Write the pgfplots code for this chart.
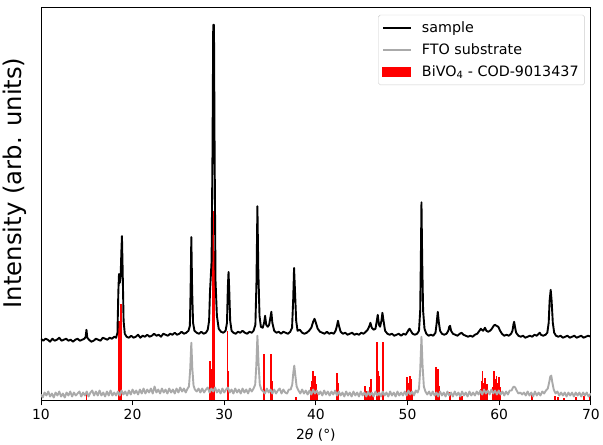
\documentclass[border=0pt]{standalone}
\usepackage{pgfplots}
\pgfplotsset{compat=1.18}
\usepackage{fontspec}
\setmainfont{DejaVu Sans}
\definecolor{ftogray}{RGB}{170,170,170}
\begin{document}
\begin{tikzpicture}
\begin{axis}[
  name=ax,
  scale only axis,
  width=552bp, height=395bp,
  xmin=10, xmax=70, ymin=0, ymax=395,
  xtick={10,20,...,70},
  ytick=\empty,
  tick align=outside,
  major tick length=5bp,
  xtick pos=bottom,
  axis line style={line width=0.8bp},
  every tick/.style={black, line width=0.8bp},
  /pgf/number format/assume math mode=true,
  ticklabel style={font=\fontsize{14}{16}\selectfont},
  xlabel={2{\itshape θ} (°)},
  ylabel={Intensity (arb. units)},
  xlabel style={font=\fontsize{14}{16}\selectfont, at={(axis description cs:0.5,-0.088)}, anchor=center},
  ylabel style={font=\fontsize{24.5}{28}\selectfont, at={(axis description cs:-0.047,0.553)}, anchor=center, rotate=0},
  legend style={at={(axis description cs:0.989,0.98)}, anchor=north east,
    draw=black!20, rounded corners=2pt, fill=white, fill opacity=0.8, text opacity=1,
    font=\fontsize{14.4}{16}\selectfont, row sep=5.5bp, inner xsep=4bp, inner ysep=5bp},
  legend cell align=left,
  reverse legend,
]
\addplot[ycomb, red, line width=1.9bp,
  legend image code/.code={\fill[red, sharp corners, fill opacity=1] (0bp,-4bp) rectangle (27bp,4bp); \path (36bp,0bp);}] coordinates {
(14.97,8) (18.48,80) (18.77,97) (28.48,40) (28.58,32) (28.73,190) (28.85,150) (28.91,130)
(30.36,70) (30.47,30) (34.35,47) (35.14,47) (35.22,20) (37.86,4)
(39.42,14) (39.55,20) (39.67,30) (39.78,22) (39.89,25) (40.03,17) (40.15,8)
(42.35,28) (42.45,18) (45.4,15) (45.55,10) (45.72,8) (45.87,14) (46.05,22) (46.2,6)
(46.67,59) (46.78,30) (46.85,25) (47.28,59) (47.38,42)
(49.93,24) (50.05,18) (50.22,25) (50.4,22) (50.5,10)
(53.15,34) (53.25,25) (53.37,32) (53.48,15) (54.64,9) (55.72,7) (55.98,5)
(58.0,12) (58.1,20) (58.18,30) (58.3,18) (58.44,23) (58.55,15) (58.7,17)
(59.27,14) (59.38,20) (59.46,30) (59.58,22) (59.71,25) (59.85,18) (60.0,24) (60.14,14)
(63.62,7) (66.05,5) (66.4,4) (67.1,3) (68.4,4) (69.3,5) (69.85,7)
};
\addlegendentry{BiVO\textsubscript{4} - COD-9013437\hspace{9bp}}
\addplot[ftogray, line width=1.9bp, line join=round,
  legend image code/.code={\draw[ftogray, line width=1.6bp, opacity=1] (0bp,0bp) -- (28bp,0bp); \path (36bp,0bp);}] coordinates {
(10.0,6) (10.2,3) (10.4,8) (10.6,5) (10.8,9) (11.0,4) (11.2,7) (11.4,3) (11.6,8) (11.8,5)
(12.0,9) (12.2,4) (12.4,7) (12.6,3) (12.8,8) (13.0,5) (13.2,9) (13.4,4) (13.6,8) (13.8,5)
(14.0,7) (14.2,9) (14.4,4) (14.6,8) (14.8,5) (15.0,9) (15.2,4) (15.4,8) (15.6,10) (15.8,5)
(16.0,9) (16.2,5) (16.4,10) (16.6,5) (16.8,8) (17.0,4) (17.2,9) (17.4,5) (17.6,10) (17.8,5)
(18.0,8) (18.2,5) (18.4,9) (18.6,5) (18.8,10) (19.0,6) (19.2,9) (19.4,5) (19.6,10) (19.8,6)
(20.0,11) (20.2,7) (20.4,10) (20.6,6) (20.8,11) (21.0,7) (21.2,12) (21.4,7) (21.6,11) (21.8,8)
(22.0,12) (22.2,7) (22.4,14) (22.6,8) (22.8,11) (23.0,7) (23.2,12) (23.4,8) (23.6,11) (23.8,7)
(24.0,12) (24.2,8) (24.4,11) (24.6,7) (24.8,12) (25.0,8) (25.2,13) (25.4,9) (25.6,12) (25.8,8)
(26.0,12) (26.15,14) (26.28,30) (26.41,58) (26.52,32) (26.65,15) (26.8,11) (27.0,9) (27.2,12)
(27.4,8) (27.6,12) (27.8,8) (28.0,11) (28.2,13) (28.4,8) (28.6,12) (28.8,9) (29.0,13) (29.2,8)
(29.4,11) (29.6,7) (29.8,12) (30.0,8) (30.2,11) (30.4,13) (30.6,8) (30.8,11) (31.0,7) (31.2,12)
(31.4,8) (31.6,11) (31.8,7) (32.0,12) (32.2,8) (32.4,11) (32.6,7) (32.8,12) (33.0,9) (33.2,12)
(33.38,16) (33.5,35) (33.62,65) (33.74,38) (33.88,16) (34.05,11) (34.25,9) (34.45,7) (34.65,12)
(34.85,8) (35.05,11) (35.25,7) (35.45,11) (35.65,7) (35.85,10) (36.05,12) (36.25,7) (36.45,11)
(36.65,8) (36.85,7) (37.05,11) (37.25,11) (37.42,16) (37.54,28) (37.64,35) (37.75,26) (37.9,14)
(38.1,10) (38.3,7) (38.5,11) (38.7,7) (38.9,10) (39.1,6) (39.3,10) (39.5,6) (39.7,11) (39.9,7)
(40.1,10) (40.3,6) (40.5,9) (40.7,5) (40.9,10) (41.1,6) (41.3,9) (41.5,5) (41.7,9) (41.9,6)
(42.1,10) (42.3,5) (42.5,9) (42.7,5) (42.9,8) (43.1,4) (43.3,9) (43.5,5) (43.7,8) (43.9,4)
(44.1,9) (44.3,5) (44.5,8) (44.7,4) (44.9,9) (45.1,5) (45.3,8) (45.5,4) (45.7,9) (45.9,5)
(46.1,8) (46.3,4) (46.5,9) (46.7,5) (46.9,8) (47.1,4) (47.3,9) (47.5,5) (47.7,8) (47.9,4)
(48.1,9) (48.3,5) (48.5,8) (48.7,4) (48.9,9) (49.1,5) (49.3,8) (49.5,5) (49.7,9) (49.9,5)
(50.1,10) (50.3,6) (50.5,9) (50.7,5) (50.9,10) (51.1,8) (51.25,12) (51.38,30) (51.52,64) (51.64,35)
(51.78,14) (51.95,9) (52.15,6) (52.35,9) (52.55,5) (52.75,9) (52.95,5) (53.15,8) (53.35,4)
(53.55,9) (53.75,5) (53.95,8) (54.15,4) (54.35,9) (54.55,5) (54.75,8) (54.95,4) (55.15,9)
(55.35,5) (55.55,8) (55.75,4) (55.95,9) (56.15,5) (56.35,8) (56.55,4) (56.75,9) (56.95,5)
(57.15,8) (57.35,5) (57.55,9) (57.75,6) (57.95,10) (58.15,6) (58.35,11) (58.55,7) (58.75,10)
(58.95,6) (59.15,11) (59.35,7) (59.55,10) (59.75,6) (59.95,10) (60.15,6) (60.35,9) (60.55,5)
(60.75,9) (60.95,6) (61.15,10) (61.35,10) (61.5,13) (61.62,14) (61.75,13) (61.9,10) (62.1,7)
(62.3,8) (62.5,6) (62.7,8) (62.9,5) (63.1,9) (63.3,5) (63.5,8) (63.7,4) (63.9,9) (64.1,5)
(64.3,8) (64.5,5) (64.7,9) (64.9,7) (65.1,10) (65.3,12) (65.45,18) (65.57,24) (65.68,25)
(65.8,18) (65.95,11) (66.15,7) (66.35,9) (66.55,5) (66.75,8) (66.95,5) (67.15,8) (67.35,4)
(67.55,8) (67.75,5) (67.95,8) (68.15,4) (68.35,8) (68.55,5) (68.75,8) (68.95,4) (69.15,8)
(69.35,5) (69.55,8) (69.75,4) (70.0,7)
};
\addlegendentry{FTO substrate}
\addplot[black, line width=1.9bp, line join=round,
  legend image code/.code={\draw[black, line width=1.6bp, opacity=1] (0bp,0bp) -- (28bp,0bp); \path (36bp,0bp);}] coordinates {
(10.0,62) (10.25,60) (10.5,62) (10.75,61) (11.0,59) (11.25,62) (11.5,60) (11.75,61) (12.0,63)
(12.25,60) (12.5,61) (12.75,62) (13.0,60) (13.25,61) (13.5,59) (13.75,61) (14.0,62) (14.25,60)
(14.5,61) (14.75,62) (14.88,64) (14.97,71) (15.06,63) (15.25,61) (15.5,59) (15.75,60) (16.0,62)
(16.25,61) (16.5,60) (16.75,63) (17.0,62) (17.25,61) (17.5,63) (17.75,62) (18.0,64) (18.2,63)
(18.35,68) (18.45,110) (18.52,127) (18.6,118) (18.7,125) (18.78,150) (18.84,165) (18.92,130)
(19.02,80) (19.15,67) (19.35,64) (19.6,63) (19.85,65) (20.1,63) (20.35,64) (20.6,66) (20.85,63)
(21.1,65) (21.35,64) (21.6,66) (21.85,64) (22.1,65) (22.35,67) (22.6,65) (22.85,66) (23.1,64)
(23.35,67) (23.6,66) (23.85,65) (24.1,67) (24.35,66) (24.6,68) (24.85,66) (25.1,67) (25.35,69)
(25.6,67) (25.85,68) (26.1,70) (26.25,75) (26.33,110) (26.41,164) (26.5,110) (26.6,78) (26.75,70)
(27.0,68) (27.25,67) (27.5,69) (27.75,67) (28.0,68) (28.2,71) (28.35,80) (28.45,110) (28.52,122)
(28.62,140) (28.72,250) (28.8,377) (28.88,377) (28.95,250) (29.05,120) (29.2,85) (29.4,72)
(29.65,69) (29.9,68) (30.15,70) (30.3,78) (30.4,115) (30.47,129) (30.55,110) (30.65,80) (30.8,70)
(31.0,68) (31.25,67) (31.5,69) (31.75,68) (32.0,70) (32.25,68) (32.5,67) (32.75,69) (33.0,68)
(33.2,70) (33.4,76) (33.52,120) (33.62,195) (33.72,130) (33.85,85) (34.0,74) (34.2,73) (34.35,78)
(34.46,85) (34.58,76) (34.75,74) (34.9,76) (35.05,84) (35.14,89) (35.25,78) (35.45,70) (35.7,68)
(35.95,69) (36.2,67) (36.45,69) (36.7,68) (36.95,67) (37.2,69) (37.4,73) (37.52,100) (37.62,133)
(37.72,110) (37.85,80) (38.0,70) (38.25,71) (38.5,68) (38.75,67) (39.0,68) (39.25,70) (39.5,73)
(39.7,79) (39.85,82) (40.0,78) (40.2,72) (40.45,69) (40.7,68) (40.95,67) (41.2,69) (41.45,67)
(41.7,68) (41.95,67) (42.15,70) (42.3,75) (42.41,80) (42.52,75) (42.7,69) (42.95,67) (43.2,68)
(43.45,66) (43.7,67) (43.95,68) (44.2,66) (44.45,67) (44.7,66) (44.95,68) (45.2,67) (45.45,69)
(45.65,71) (45.85,75) (45.95,78) (46.1,73) (46.3,71) (46.5,72) (46.65,80) (46.75,86) (46.88,76)
(47.0,74) (47.15,80) (47.26,88) (47.38,80) (47.55,70) (47.8,67) (48.05,66) (48.3,67) (48.55,65)
(48.8,66) (49.05,67) (49.3,65) (49.55,67) (49.8,66) (50.0,69) (50.12,71) (50.22,72) (50.35,70)
(50.55,67) (50.8,66) (51.05,67) (51.25,70) (51.38,90) (51.45,140) (51.52,199) (51.6,140) (51.7,90)
(51.85,72) (52.05,67) (52.3,65) (52.55,66) (52.8,65) (53.05,68) (53.18,78) (53.3,89) (53.42,78)
(53.55,70) (53.75,67) (54.0,66) (54.25,67) (54.45,70) (54.55,74) (54.64,75) (54.75,70) (54.95,67)
(55.2,66) (55.45,65) (55.7,67) (55.9,68) (56.1,66) (56.35,65) (56.6,64) (56.85,65) (57.1,64)
(57.35,66) (57.6,67) (57.85,70) (58.0,72) (58.1,71) (58.25,70) (58.45,73) (58.6,70) (58.8,69)
(59.0,70) (59.2,72) (59.4,75) (59.53,76) (59.7,75) (59.9,74) (60.1,70) (60.3,67) (60.55,65)
(60.8,66) (61.05,65) (61.3,67) (61.45,70) (61.55,76) (61.63,79) (61.72,74) (61.85,68) (62.1,65)
(62.35,64) (62.6,65) (62.85,63) (63.1,64) (63.35,65) (63.6,64) (63.85,66) (64.1,65) (64.3,67)
(64.42,68) (64.55,66) (64.8,65) (65.05,66) (65.25,68) (65.4,78) (65.5,100) (65.62,111) (65.72,100)
(65.85,78) (66.0,68) (66.2,65) (66.45,64) (66.7,65) (66.95,63) (67.2,64) (67.45,65) (67.7,63)
(67.95,64) (68.2,65) (68.45,63) (68.7,64) (68.95,65) (69.2,63) (69.45,64) (69.7,65) (70.0,64)
};
\addlegendentry{sample}
\end{axis}
\path[use as bounding box] ([xshift=-41bp,yshift=-44bp]ax.south west) rectangle ([xshift=10bp,yshift=7bp]ax.north east);
\end{tikzpicture}
\end{document}
